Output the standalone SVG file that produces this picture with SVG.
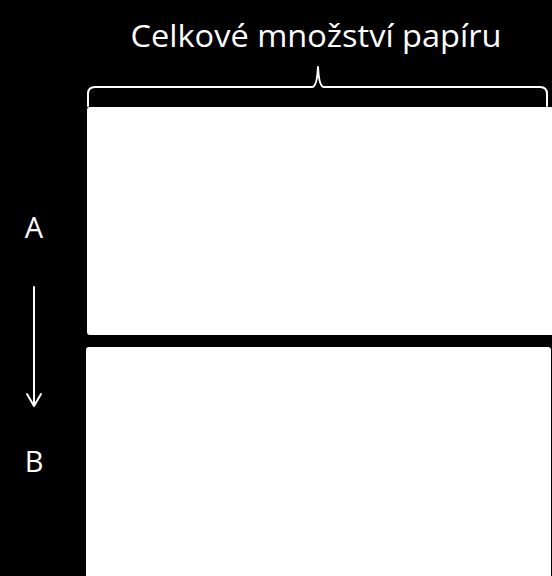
<svg xmlns="http://www.w3.org/2000/svg" width="552" height="576" viewBox="0 0 552 576">
<style>
.t{fill:#fff;font-family:"Open Sans","DejaVu Sans",sans-serif}
.ln{fill:none;stroke:#fff;stroke-width:2;stroke-linecap:round;stroke-linejoin:round}
.box{fill:#fff}
</style>
<rect width="552" height="576" fill="#000"/>
<g id="title">
<text class="t" x="316" y="47" font-size="31" text-anchor="middle" textLength="371" lengthAdjust="spacingAndGlyphs">Celkové množství papíru</text>
</g>
<g id="brace">
<path class="ln" d="M88,106 L88,94 Q88,87 95,87 L312,87 Q317,87 318,67 Q319,87 324,87 L540,87 Q547,87 547,94 L547,106"/>
</g>
<g id="boxA">
<rect class="box" x="87" y="107" width="470" height="228" rx="3"/>
</g>
<g id="boxB">
<rect class="box" x="86" y="347" width="465" height="235" rx="3"/>
</g>
<g id="labelA">
<text class="t" x="34" y="238" font-size="29" text-anchor="middle">A</text>
</g>
<g id="labelB">
<text class="t" x="34" y="472" font-size="29" text-anchor="middle">B</text>
</g>
<g id="connectors">
<path class="ln" d="M34,287 L34,406 M27,394 L34,406 L41,394"/>
</g>
</svg>
